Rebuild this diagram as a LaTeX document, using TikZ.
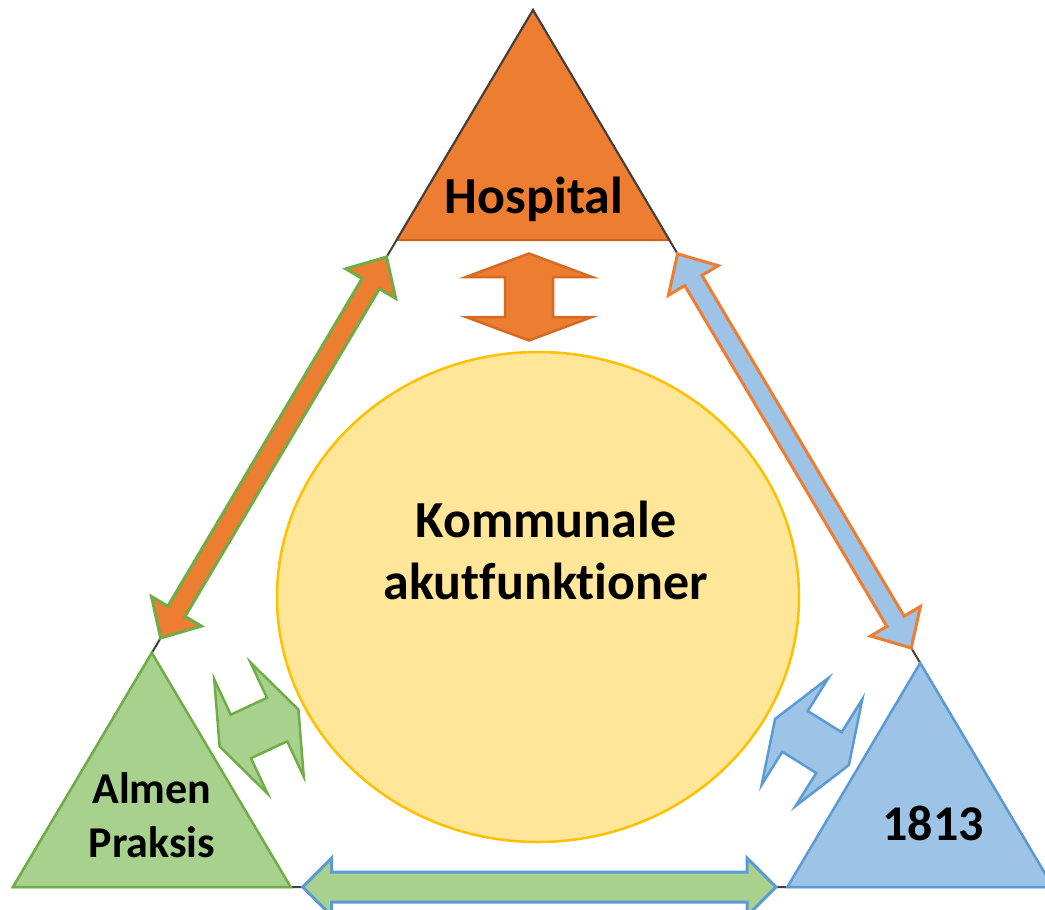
\documentclass[tikz,border=0pt]{standalone}
\usepackage{fontspec}
\setmainfont{Carlito}[Ligatures={NoCommon,NoContextual}]
\usetikzlibrary{calc}
\definecolor{orangeF}{HTML}{ED7D31}
\definecolor{orangeD}{HTML}{C9621E}
\definecolor{greenF}{HTML}{A9D18E}
\definecolor{greenD}{HTML}{70AD47}
\definecolor{blueF}{HTML}{9DC3E6}
\definecolor{blueD}{HTML}{5B9BD5}
\definecolor{yellowF}{HTML}{FFE699}
\definecolor{yellowD}{HTML}{FFC000}
\definecolor{lineD}{HTML}{404040}
% double arrow between two named points: from, to, head length, head half width, shaft half width, style
\newcommand\dblarrow[6]{%
  \path[#6] let \p1=(#1), \p2=(#2), \n1={atan2(\y2-\y1,\x2-\x1)}, \n2={veclen(\x2-\x1,\y2-\y1)} in
   [shift={(\p1)}, rotate=\n1]
   (0,0) -- (#3,#4) -- (#3,#5) -- (\n2-#3,#5) -- (\n2-#3,#4) -- (\n2,0)
   -- (\n2-#3,-#4) -- (\n2-#3,-#5) -- (#3,-#5) -- (#3,-#4) -- cycle;
}
% short wide double arrow around a named centre
\newcommand\shortarrow[3]{%
  \path[#3, shift={(#1)}, rotate=#2]
   (-43.5,0) -- (-20,63) -- (-20,24) -- (20,24) -- (20,63) -- (43.5,0)
   -- (20,-63) -- (20,-24) -- (-20,-24) -- (-20,-63) -- cycle;
}
\tikzset{
  frameline/.style={draw=lineD, line width=2pt},
  toptri/.style={fill=orangeF, draw=orangeD, line width=2pt, line join=miter},
  lefttri/.style={fill=greenF, draw=greenD, line width=2.5pt, line join=miter},
  righttri/.style={fill=blueF, draw=blueD, line width=2.5pt, line join=miter},
  centre/.style={fill=yellowF, draw=yellowD, line width=2.5pt},
  arrowL/.style={fill=orangeF, draw=greenD, line width=3pt, line join=miter},
  arrowR/.style={fill=blueF, draw=orangeF, line width=3pt, line join=miter},
  arrowB/.style={fill=greenF, draw=blueD, line width=3pt, line join=miter},
  smallO/.style={fill=orangeF, draw=orangeD!70!orangeF, line width=2.5pt, line join=miter},
  smallG/.style={fill=greenF, draw=greenD, line width=2.5pt, line join=miter},
  smallB/.style={fill=blueF, draw=blueD, line width=2.5pt, line join=miter},
  lbl/.style={inner sep=0pt, text=black, align=center, font=\bfseries},
}
\begin{document}
\begin{tikzpicture}[x=1pt, y=-1pt]
\useasboundingbox (0,0) rectangle (1045,910);
\fill[white] (0,0) rectangle (1045,910);
% outer frame triangle
\coordinate (A) at (533,10);
\coordinate (BL) at (13,887);
\coordinate (BR) at (1053,887);
% corner triangles
\coordinate (T1) at ($(A)!0.2623!(BL)$);
\coordinate (T2) at ($(A)!0.2623!(BR)$);
\coordinate (L1) at ($(A)!0.733!(BL)$);
\coordinate (L2) at ($(BL)!0.267!(BR)$);
\coordinate (R1) at ($(A)!0.7446!(BR)$);
\coordinate (R2) at ($(BR)!0.2554!(BL)$);
% arrow tips
\coordinate (la1) at ($(A)!0.2816!(BL)$);
\coordinate (la2) at ($(A)!0.7161!(BL)$);
\coordinate (ra1) at ($(A)!0.278!(BR)$);
\coordinate (ra2) at ($(A)!0.7275!(BR)$);
\coordinate (ba1) at ($(BL)!0.2786!(BR)$);
\coordinate (ba2) at ($(BL)!0.7337!(BR)$);
% small arrow centres
\coordinate (sO) at (529,297);
\coordinate (sG) at (259,728);
\coordinate (sB) at (812,742);

\path[toptri] (A) -- (T1) -- (T2) -- cycle;
\draw[frameline] (A) -- (BL) -- (BR) -- cycle;
\path[lefttri] (L1) -- (BL) -- (L2) -- cycle;
\path[righttri] (R1) -- (R2) -- (BR) -- cycle;

\path[centre] (538,597) ellipse [x radius=261, y radius=245];

\dblarrow{la1}{la2}{31}{29}{10}{arrowL}
\dblarrow{ra1}{ra2}{31}{29}{10}{arrowR}
\dblarrow{ba1}{ba2}{29}{29}{15}{arrowB}

\shortarrow{sO}{90}{smallO}
\shortarrow{sG}{25}{smallG}
\shortarrow{sB}{-32}{smallB}

\node[lbl, anchor=base, font=\bfseries\fontsize{52}{63}\selectfont] (hosp) at (534,213) {Hospital};
\node[lbl, anchor=base, font=\bfseries\fontsize{44}{54}\selectfont] (almen) at (152,857) {Almen\\Praksis};
\node[lbl, anchor=base, font=\bfseries\fontsize{50}{60}\selectfont] (nr) at (933,840) {1813};
\node[lbl, anchor=base, font=\bfseries\fontsize{52}{62}\selectfont] (komm) at (546,599) {Kommunale\\akutfunktioner};
\end{tikzpicture}
\end{document}
